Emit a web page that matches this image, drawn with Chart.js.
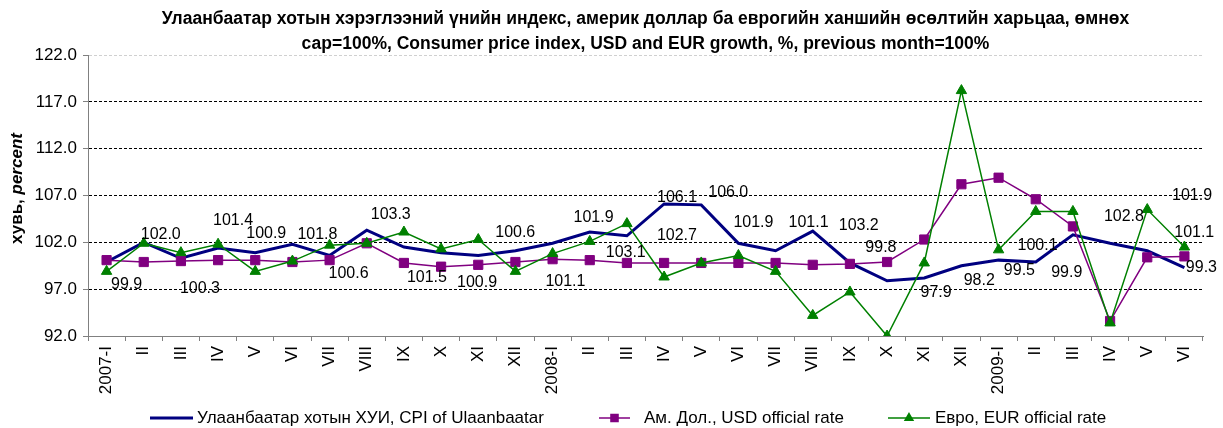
<!DOCTYPE html>
<html><head><meta charset="utf-8">
<script src="https://cdn.jsdelivr.net/npm/chart.js@4/dist/chart.umd.min.js"></script>
<style>html,body{margin:0;padding:0;background:#fff}canvas{display:block}</style>
</head><body>
<canvas id="c" width="1223" height="428"></canvas>
<script>
const categories = ['2007-I','II','III','IV','V','VI','VII','VIII','IX','X','XI','XII',
  '2008-I','II','III','IV','V','VI','VII','VIII','IX','X','XI','XII',
  '2009-I','II','III','IV','V','VI'];
const cpiValues = [99.9,102.0,100.3,101.4,100.9,101.8,100.6,103.3,101.5,100.9,100.6,101.1,
  101.9,103.1,102.7,106.1,106.0,101.9,101.1,103.2,99.8,97.9,98.2,99.5,
  100.1,99.9,102.8,101.9,101.1,99.3];
const usdValues = [100.1,99.9,100.0,100.1,100.1,99.9,100.1,101.9,99.8,99.4,99.6,99.9,
  100.2,100.1,99.8,99.8,99.8,99.8,99.8,99.6,99.7,99.9,102.3,108.2,
  108.9,106.6,103.7,93.6,100.4,100.5];
const eurValues = [98.9,101.9,100.9,101.8,98.9,100.0,101.7,101.9,103.1,101.3,102.3,98.9,
  100.8,102.1,104.0,98.3,99.8,100.6,98.9,94.2,96.7,92.0,99.8,118.2,
  101.2,105.3,105.3,93.4,105.5,101.5];
const seriesNames = ['Улаанбаатар хотын ХУИ, CPI of Ulaanbaatar','Ам. Дол., USD official rate','Евро, EUR official rate'];
const titleLines = ['Улаанбаатар хотын хэрэглээний үнийн индекс, америк доллар ба еврогийн ханшийн өсөлтийн харьцаа, өмнөх',
  'сар=100%, Consumer price index, USD and EUR growth, %, previous month=100%'];
const yAxisMin = 92, yAxisMax = 122, yAxisStep = 5;
const yTitleMain = 'хувь, ', yTitleItalic = 'percent';

// label placement offsets (style only)
const cpiLabelOffsets = [[20,23],[17,-8],[19,30],[15,-27],[11,-19],[25,-10],[19,18],[24,-16],[23,31],[36,30],
  [37,-23],[50,31],[41,-26],[36,21],[50,0],[13,-6],[27,-12],[15,-21],[33,-28],[46,-5],
  [31,-15],[49,12],[55,3],[58,5],[39,-15],[31,11],[51,-18],[82,-48],[47,-18],[17,0]];

const FONT = '"Liberation Sans", Arial, sans-serif';
Chart.defaults.font.family = FONT;
Chart.defaults.font.size = 17;
Chart.defaults.color = '#000';

const extras = {
  id: 'extras',
  afterDatasetsDraw(chart) {
    const ctx = chart.ctx;
    const meta = chart.getDatasetMeta(0);
    ctx.save();
    ctx.font = '16px ' + FONT;
    ctx.fillStyle = '#000';
    ctx.textAlign = 'center';
    ctx.textBaseline = 'middle';
    meta.data.forEach((pt, i) => {
      const o = cpiLabelOffsets[i];
      ctx.fillText(cpiValues[i].toFixed(1), pt.x + o[0], pt.y + o[1]);
    });
    ctx.restore();
  },
  afterDraw(chart) {
    const ctx = chart.ctx;
    const area = chart.chartArea;
    // y-axis title
    ctx.save();
    ctx.translate(17, (area.top + area.bottom) / 2 - 7);
    ctx.rotate(-Math.PI / 2);
    ctx.textBaseline = 'middle';
    ctx.fillStyle = '#000';
    ctx.font = 'bold 17px ' + FONT;
    const w1 = ctx.measureText(yTitleMain).width;
    ctx.font = 'italic bold 17px ' + FONT;
    const w2 = ctx.measureText(yTitleItalic).width;
    let x = -(w1 + w2) / 2;
    ctx.textAlign = 'left';
    ctx.font = 'bold 17px ' + FONT;
    ctx.fillText(yTitleMain, x, 0);
    ctx.font = 'italic bold 17px ' + FONT;
    ctx.fillText(yTitleItalic, x + w1, 0);
    ctx.restore();
    // legend
    const ly = 418;
    const items = [{x0:150,x1:193,tx:197},{x0:599,x1:630,tx:644},{x0:888,x1:930,tx:935}];
    ctx.save();
    ctx.font = '17px ' + FONT;
    ctx.textBaseline = 'middle';
    ctx.textAlign = 'left';
    chart.data.datasets.forEach((ds, i) => {
      const it = items[i];
      ctx.strokeStyle = ds.borderColor;
      ctx.lineWidth = ds.borderWidth;
      ctx.beginPath(); ctx.moveTo(it.x0, ly); ctx.lineTo(it.x1, ly); ctx.stroke();
      if (ds.pointRadius > 0) {
        ctx.fillStyle = ds.backgroundColor;
        ctx.strokeStyle = ds.borderColor;
        Chart.helpers.drawPoint(ctx, {pointStyle: ds.pointStyle, radius: ds.pointRadius - 1.5, borderWidth: 1, rotation: 0},
          (it.x0 + it.x1) / 2, ly);
      }
      ctx.fillStyle = '#000';
      ctx.fillText(ds.label, it.tx, ly);
    });
    ctx.restore();
  }
};

new Chart(document.getElementById('c'), {
  type: 'line',
  data: {
    labels: categories,
    datasets: [
      {label: seriesNames[0], data: cpiValues, borderColor: '#000080', backgroundColor: '#000080', borderWidth: 3, pointRadius: 0, tension: 0, order: 3},
      {label: seriesNames[1], data: usdValues, borderColor: '#800080', backgroundColor: '#800080', borderWidth: 1.5, pointStyle: 'rect', pointRadius: 6.5, pointBorderWidth: 1, tension: 0, order: 2},
      {label: seriesNames[2], data: eurValues, borderColor: '#008000', backgroundColor: '#008000', borderWidth: 1.5, pointStyle: 'triangle', pointRadius: 6, pointBorderWidth: 1, tension: 0, order: 1}
    ]
  },
  options: {
    responsive: false,
    animation: false,
    events: [],
    layout: {padding: {top: 0, right: 20, bottom: 32, left: 0}},
    plugins: {
      legend: {display: false},
      tooltip: {enabled: false},
      title: {display: true, text: titleLines, fullSize: false, color: '#000',
        font: {size: 17.5, weight: 'bold', lineHeight: 25.5/17.5}, padding: {top: 6, bottom: -2}}
    },
    scales: {
      x: {
        offset: true,
        grid: {offset: true, drawOnChartArea: false, drawTicks: true, tickLength: 5, color: '#808080', tickColor: '#808080'},
        border: {display: true, color: '#808080', width: 1},
        ticks: {autoSkip: false, minRotation: 90, maxRotation: 90, padding: 5, font: {size: 17}, color: '#000'},
        afterFit: s => { s.height = 60; }
      },
      y: {
        min: yAxisMin, max: yAxisMax,
        ticks: {stepSize: yAxisStep, padding: 6, font: {size: 17}, color: '#000', callback: v => Number(v).toFixed(1)},
        grid: {
          lineWidth: 1,
          tickLength: 5,
          tickColor: '#808080',
          color: c => (c.tick && c.tick.value === yAxisMin) ? 'rgba(0,0,0,0)' : (c.tick && c.tick.value === yAxisMax ? '#d0d0d0' : '#000')
        },
        border: {display: true, color: '#808080', width: 1, dash: [3, 2]},
        afterFit: s => { s.width = 88; }
      }
    }
  },
  plugins: [extras]
});
</script>
</body></html>
